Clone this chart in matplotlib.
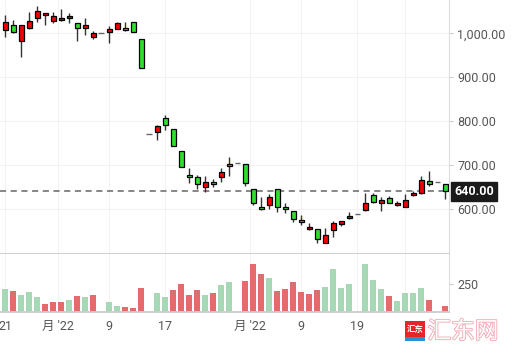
import matplotlib
matplotlib.use("Agg")
import matplotlib.pyplot as plt
import matplotlib.transforms as mtransforms
import matplotlib.patheffects as pe
import numpy as np

plt.rcParams['font.family'] = ['Roboto', 'Noto Sans CJK SC', 'DejaVu Sans']

# daily OHLC (NaN-free; flat days have O=H=L=C)
opens  = [1007, 1020, 982, 1011, 1036, 1041, 1027, 1030, 1034, 1023, 1011, 992, 1000, 1002, 1009, 1011,
          1025, 986, 770, 774, 806, 782, 731, 677, 672, 649, 662, 673, 702, 703.5, 701, 646,
          603, 608, 645, 604, 594, 574, 553, 553, 522, 551, 565, 578, 588, 596,
          631, 614, 624, 608, 605, 631, 636, 663, 660, 656]
highs  = [1042, 1030, 1018, 1049, 1062, 1046, 1048, 1055, 1046, 1023, 1034, 1005, 1000, 1017, 1025, 1026,
          1025, 986, 770, 792, 814, 782, 731, 692, 676, 675, 667, 692, 718, 703.5, 701, 646,
          626, 634, 645, 612, 594, 585, 567, 553, 555, 573, 572, 593, 588, 635,
          635, 626, 629, 618, 634, 641, 675, 685, 660, 656]
lows   = [991, 1001, 947, 1009, 1026, 1020, 1024, 1027, 1023, 982, 996, 986, 1000, 977, 1009, 1006,
          1002, 922, 770, 756, 779, 742, 694, 658, 644, 639, 650, 661, 674, 703.5, 652, 608,
          597, 599, 592, 590, 570, 562, 551, 521, 522, 535, 560, 576, 588, 595,
          614, 594, 612, 607, 604, 630, 634, 652, 660, 623]
closes = [1025, 1004, 1018, 1027, 1052, 1046, 1039, 1034, 1040, 1011, 1020, 1001, 1000, 1010, 1023, 1007,
          1004, 922, 770, 788, 790, 742, 694, 672, 656, 662, 656, 684, 697, 703.5, 658, 612,
          599, 626, 603, 599, 576, 569, 558, 532, 541, 567, 572, 583, 588, 612,
          615, 620, 612, 613, 620, 636, 665, 657, 660, 641]
last_price = 640.0

# volume (0 = no trading) and its bar colour flag (1 = red, 0 = green)
volumes = [205, 188, 152, 176, 134, 71, 89, 89, 107, 143, 134, 152, 0, 89, 54, 45,
           36, 214, 0, 167, 134, 196, 250, 152, 196, 152, 170, 241, 268, 0, 277, 429,
           339, 304, 188, 205, 268, 179, 161, 196, 223, 384, 214, 250, 0, 429,
           286, 205, 143, 98, 170, 170, 214, 107, 0, 54]
vol_red = [0, 1, 0, 0, 0, 1, 1, 1, 0, 1, 0, 1, 0, 0, 0, 1,
           1, 1, 0, 0, 0, 1, 1, 1, 1, 0, 1, 0, 0, 0, 1, 1,
           1, 0, 1, 1, 1, 1, 1, 1, 0, 0, 0, 0, 0, 0,
           0, 0, 1, 0, 0, 0, 0, 1, 0, 1]

tick_pos = [0, 6.55, 13, 20, 30.55, 37, 44, 50]
tick_labels = ['21', "月 '22", '9', '17', "月 '22", '9', '19', '']
price_ticks = [600, 700, 800, 900, 1000]

UP = '#f50000'
DOWN = '#2ee02e'
VUP = '#e26b6b'
VDOWN = '#a6d8b6'
GRID = '#f2f2f2'
TXT = '#555555'

fig = plt.figure(figsize=(5.12, 3.54), dpi=100)
ax = fig.add_axes([0, 1 - 254 / 354, 449 / 512, 254 / 354])
axv = fig.add_axes([0, 1 - 312 / 354, 449 / 512, 58 / 354], sharex=ax)

o = np.array(opens, float)
h = np.array(highs, float)
l = np.array(lows, float)
c = np.array(closes, float)
x = np.arange(len(o))
flat = (h == l)

# wicks
ax.vlines(x[~flat], l[~flat], h[~flat], color='#333333', lw=1, zorder=2)
# bodies
up = c >= o
cols = np.where(up, UP, DOWN)
body_bot = np.minimum(o, c)
body_h = np.maximum(np.abs(c - o), 1.2)
ax.bar(x[~flat], body_h[~flat], bottom=body_bot[~flat], width=0.62,
       color=cols[~flat], edgecolor='black', linewidth=0.9, zorder=3)
# flat (no-trade) days
ax.hlines(c[flat], x[flat] - 0.35, x[flat] + 0.35, color='#666666', lw=1, zorder=3)

# last price line and marker
ax.axhline(last_price, color='#666666', lw=1.1, ls=(0, (4, 3)), zorder=1)
trans = mtransforms.blended_transform_factory(ax.transAxes, ax.transData)
ax.text(1.012, last_price, f'{last_price:,.2f}', transform=trans, va='center', ha='left',
        color='white', fontsize=9, fontweight='bold',
        bbox=dict(boxstyle='square,pad=0.25', fc='#1a1a1a', ec='#1a1a1a'))

ax.set_xlim(-0.66, 55.46)
ax.set_ylim(496.7, 1076)
ax.yaxis.tick_right()
ax.set_yticks(price_ticks)
ax.set_yticklabels([f'{v:,.2f}' for v in price_ticks])
ax.tick_params(axis='y', length=3, color='#cccccc', labelcolor=TXT, labelsize=9, pad=3)
ax.tick_params(axis='x', length=0, labelbottom=False)
ax.set_xticks(tick_pos)
ax.grid(True, color=GRID, lw=0.8)
ax.set_axisbelow(True)
for s in ['top', 'left']:
    ax.spines[s].set_visible(False)
ax.spines['right'].set_color('#dddddd')
ax.spines['bottom'].set_color('#cccccc')
ax.spines['bottom'].set_linewidth(1.3)

# volume
v = np.array(volumes, float)
vc = [VUP if r else VDOWN for r in vol_red]
axv.bar(x, v, width=0.75, color=vc, zorder=2)
axv.set_ylim(0, 518)
axv.yaxis.tick_right()
axv.set_yticks([250])
axv.tick_params(axis='y', length=3, color='#cccccc', labelcolor=TXT, labelsize=9, pad=3)
axv.set_xticks(tick_pos)
axv.set_xticklabels(tick_labels)
axv.tick_params(axis='x', length=0, labelcolor=TXT, labelsize=9, pad=6)
axv.grid(True, axis='x', color=GRID, lw=0.8)
axv.set_axisbelow(True)
for s in ['top', 'left']:
    axv.spines[s].set_visible(False)
axv.spines['right'].set_color('#dddddd')
axv.spines['bottom'].set_color('#cccccc')
axv.spines['bottom'].set_linewidth(1.3)

# watermark
fig.patches.append(plt.Rectangle((405 / 512, 1 - 337 / 354), 20 / 512, 16 / 354,
                                 transform=fig.transFigure, fc='#e8232a', ec='none'))
fig.patches.append(plt.Rectangle((405 / 512, 1 - 341 / 354), 20 / 512, 4 / 354,
                                 transform=fig.transFigure, fc='#2a8fd8', ec='none'))
fig.text(415 / 512, 1 - 329 / 354, '汇东', color='white', fontsize=6, fontweight='bold',
         ha='center', va='center', family=['Noto Sans CJK SC'])
fig.text(463 / 512, 1 - 332 / 354, '汇东网', color='white', fontsize=17,
         ha='center', va='center', family=['Noto Sans CJK SC'],
         path_effects=[pe.withStroke(linewidth=1.2, foreground='#f3a5b2')])

fig.savefig('out.png', dpi=100)
